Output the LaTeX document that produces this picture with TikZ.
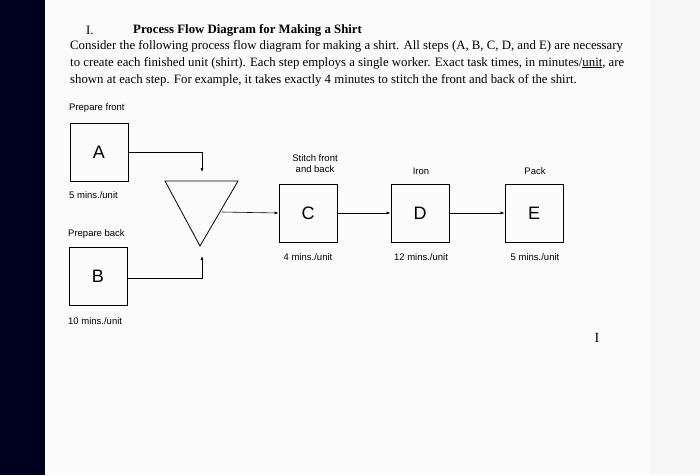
\documentclass[tikz,border=0pt]{standalone}
\usepackage{fontspec}
\setmainfont{Liberation Serif}
\newfontfamily\dsans{Liberation Sans}
\begin{document}
\begin{tikzpicture}[x=1pt,y=-1pt,
  box/.style={draw,line width=0.8pt,minimum size=58pt,inner sep=0,font=\dsans\fontsize{18}{18}\selectfont},
  lab/.style={font=\dsans\fontsize{9.5}{11}\selectfont,align=center,inner sep=0},
  txt/.style={font=\fontsize{12.8}{14}\selectfont,anchor=west,inner sep=0},
  arr/.style={-{Latex[length=4pt,width=3pt]},line width=0.6pt}]
\usetikzlibrary{arrows.meta}
\fill[white!93!gray] (0,0) rectangle (700,475);
\fill[white!97!gray] (45,0) rectangle (650,475);
\fill[black!80!blue!60!black] (0,0) rectangle (45,475);
\useasboundingbox (0,0) rectangle (700,475);
\node[txt] (t1) at (86,30) {I.};
\node[txt,font=\bfseries\fontsize{12.8}{14}\selectfont] (t2) at (133,30) {Process Flow Diagram for Making a Shirt};
\node[txt] (p1) at (70,46) {Consider the following process flow diagram for making a shirt. All steps (A, B, C, D, and E) are necessary};
\node[txt] (p2) at (70,63) {to create each finished unit (shirt). Each step employs a single worker. Exact task times, in minutes/\underline{unit}, are};
\node[txt] (p3) at (70,80) {shown at each step. For example, it takes exactly 4 minutes to stitch the front and back of the shirt.};
\node[box] (A) at (99,152) {A};
\node[box] (B) at (98,276) {B};
\node[box] (C) at (308,213) {C};
\node[box] (D) at (420,213) {D};
\node[box] (E) at (534,213) {E};
\node[lab,anchor=west] (la1) at (69,108) {Prepare front};
\node[lab,anchor=west] (la2) at (69,195) {5 mins./unit};
\node[lab,anchor=west] (lb1) at (68,234) {Prepare back};
\node[lab,anchor=west] (lb2) at (68,321) {10 mins./unit};
\node[lab] (lc1) at (315,164) {Stitch front\\and back};
\node[lab] (lc2) at (308,257) {4 mins./unit};
\node[lab] (ld1) at (421,171) {Iron};
\node[lab] (ld2) at (421,257) {12 mins./unit};
\node[lab] (le1) at (535,171) {Pack};
\node[lab] (le2) at (535,257) {5 mins./unit};
\draw[line width=0.8pt] (165,181) -- (238,181) -- (200,246) -- cycle;
\coordinate (T) at (222,212);
\coordinate (Tt) at (202,172);
\coordinate (Tb) at (202,256);
\draw[arr] (A.east |- 0,152) -| (Tt);
\draw[arr] (B.east |- 0,278) -| (Tb);
\draw[arr] (T) -- (C.west);
\draw[arr] (C) -- (D);
\draw[arr] (D) -- (E);
\node[font=\fontsize{14}{14}\selectfont] (cur) at (597,338) {I};
\end{tikzpicture}
\end{document}
